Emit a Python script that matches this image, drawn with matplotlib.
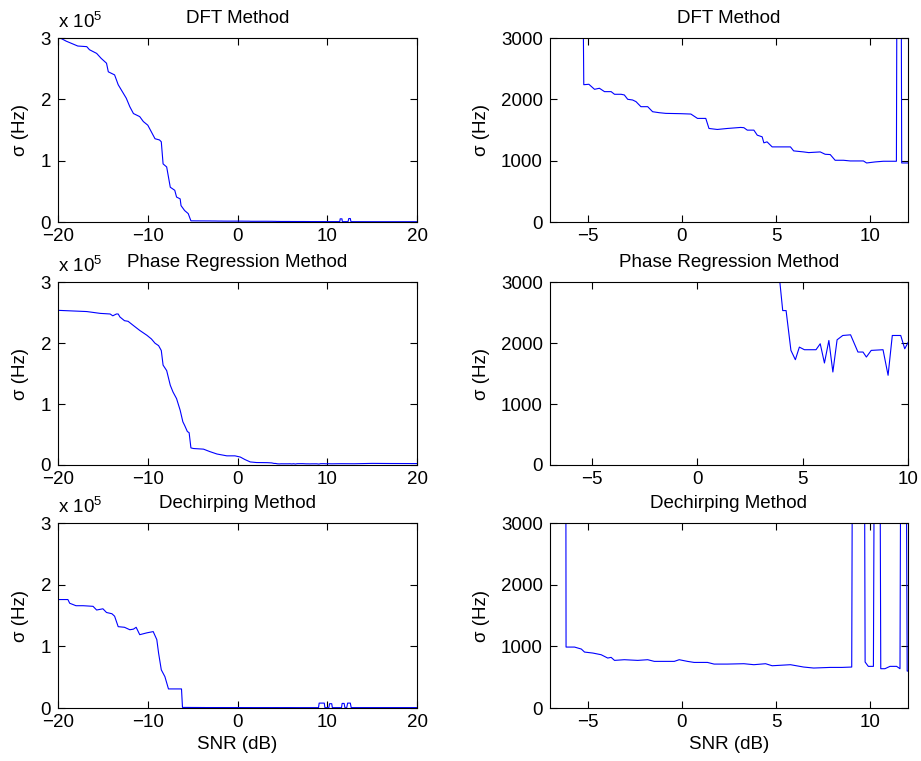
import numpy as np
import matplotlib
matplotlib.use('Agg')
import matplotlib.pyplot as plt
from matplotlib.ticker import FuncFormatter

plt.rcParams['font.family'] = ['Liberation Sans', 'DejaVu Sans']
plt.rcParams['font.size'] = 13.5
plt.rcParams['mathtext.fontset'] = 'custom'
plt.rcParams['mathtext.rm'] = 'Liberation Sans'
plt.rcParams['mathtext.it'] = 'Liberation Sans:italic'

# SNR (dB) vs sigma (Hz)
snr_dft = [-20, -19.1, -17.8, -16.8, -16.5, -15.7, -15.2, -14.6, -14.4, -13.7, -13.3,
           -12.4, -12.0, -11.6, -10.9, -10.5, -10.0, -9.6, -9.2, -8.7, -8.5, -8.3,
           -7.9, -7.5, -7.0, -6.8, -6.4, -6.3, -5.9, -5.5, -5.2, -4.93, -4.63, -4.37,
           -4.10, -3.75, -3.57, -3.22, -3.05, -2.87, -2.61, -2.43, -2.17, -1.81, -1.55,
           -1.20, -0.85, -0.05, 0.48, 0.83, 1.27, 1.44, 1.88, 2.41, 3.12, 3.29, 3.47,
           3.82, 4.0, 4.26, 4.35, 4.52, 4.79, 5.76, 5.93, 6.46, 6.73, 7.34, 7.6, 7.87,
           8.13, 8.57, 8.93, 9.63, 9.8, 10.25, 10.69, 11.38, 11.42, 11.62, 11.66, 12.0,
           12.3, 12.38, 12.55, 12.62, 14, 16, 20]
sigma_dft = [302000, 295000, 287000, 286000, 281000, 275000, 267000, 259000, 245000,
             240000, 224000, 202000, 188000, 177000, 172000, 164000, 158000, 147000,
             136000, 134000, 131000, 95000, 90000, 57000, 52000, 41000, 38000, 27000,
             19000, 14000, 2240, 2247, 2165, 2182, 2127, 2127, 2084, 2084, 2073, 2002,
             1991, 1964, 1882, 1882, 1800, 1784, 1773, 1768, 1762, 1691, 1691, 1527,
             1511, 1527, 1544, 1540, 1500, 1500, 1418, 1391, 1293, 1309, 1227, 1227,
             1162, 1145, 1134, 1145, 1107, 1102, 1009, 1009, 998, 998, 965, 982, 993,
             993, 5500, 5500, 965, 965, 1000, 6000, 6000, 900, 850, 800, 800]

snr_phase = [-20, -16.8, -15.3, -14.2, -13.9, -13.5, -13.3, -13.1, -12.6, -12.2, -11.6,
             -10.9, -10.1, -9.6, -9.2, -8.8, -8.5, -8.3, -7.9, -7.5, -7.2, -6.8, -6.4,
             -6.1, -5.9, -5.6, -5.4, -5.2, -4.9, -3.8, -3.1, -2.3, -1.2, -0.3, 0.3, 0.8,
             1.4, 2.1, 3.3, 3.8, 4.05, 4.21, 4.44, 4.65, 4.84, 5.08, 5.63, 5.83, 6.03,
             6.24, 6.43, 6.63, 6.90, 7.27, 7.62, 7.86, 8.02, 8.25, 8.81, 9.05, 9.25,
             9.65, 9.84, 10.05, 10.5, 11.5, 13, 15, 17, 20]
sigma_phase = [254000, 252000, 249000, 248000, 245000, 248000, 248000, 243000, 237000,
               236000, 229000, 221000, 213000, 207000, 200000, 196000, 188000, 164000,
               155000, 131000, 120000, 109000, 90000, 71000, 65000, 55000, 53000, 28000,
               27000, 26000, 22000, 18000, 15000, 15000, 13000, 9000, 5000, 4000, 3800,
               3400, 2536, 2536, 1882, 1729, 1936, 1893, 1893, 1991, 1675, 2045, 1527,
               2056, 2127, 2138, 1855, 1855, 1773, 1882, 1893, 1473, 2127, 2127, 1909,
               2045, 1900, 2100, 2000, 2600, 2400, 2300]

snr_dechirp = [-20, -18.9, -18.7, -18.0, -17.2, -16.1, -15.7, -15.0, -14.6, -14.0, -13.7,
               -13.3, -12.6, -12.0, -11.6, -11.3, -10.9, -10.1, -9.4, -9.0, -8.8, -8.5,
               -8.1, -7.7, -6.4, -6.25, -6.14, -5.69, -5.33, -5.16, -4.72, -4.28, -3.93,
               -3.75, -3.57, -3.05, -2.34, -1.81, -1.46, -0.40, -0.14, 0.30, 0.65, 1.36,
               1.71, 2.41, 3.29, 3.82, 4.44, 4.79, 5.76, 6.46, 6.99, 7.87, 8.49, 9.01,
               9.08, 9.65, 9.72, 9.89, 10.16, 10.24, 10.48, 10.55, 10.77, 11.04, 11.39,
               11.57, 11.64, 11.86, 11.95, 12.15, 12.25, 12.55, 12.65, 20]
sigma_dechirp = [176000, 176000, 170000, 166000, 166000, 165000, 159000, 161000, 155000,
                 153000, 149000, 132000, 131000, 127000, 128000, 131000, 119000, 122000,
                 124000, 111000, 89000, 62000, 51000, 31000, 31000, 31000, 989, 989, 957,
                 908, 892, 865, 811, 822, 773, 784, 773, 784, 757, 757, 784, 757, 740,
                 740, 713, 713, 719, 703, 719, 686, 703, 665, 649, 659, 659, 665, 8000,
                 8000, 746, 676, 676, 7000, 7000, 638, 638, 676, 676, 638, 7500, 7500,
                 600, 600, 8000, 8000, 700, 700]

titles = ['DFT Method', 'Phase Regression Method', 'Dechirping Method']
snrs = [snr_dft, snr_phase, snr_dechirp]
sigmas = [sigma_dft, sigma_phase, sigma_dechirp]
right_xmax = [12, 10, 12]

fig = plt.figure(figsize=(9.21, 7.61), dpi=100)
bottoms = [0.708, 0.389, 0.0696]
heights = [0.242, 0.240, 0.243]


def matlab_style(ax):
    ax.tick_params(direction='in', top=True, right=True, length=5, width=0.8)
    ax.tick_params(axis='x', pad=4)
    ax.tick_params(axis='y', pad=5)
    for s in ax.spines.values():
        s.set_linewidth(0.8)


minus_fmt = FuncFormatter(lambda v, _: f'{v:g}'.replace('-', '\u2212'))

for i in range(3):
    x = np.array(snrs[i])
    y = np.array(sigmas[i])

    # full range
    axl = fig.add_axes([0.063, bottoms[i], 0.390, heights[i]])
    axl.plot(x, y, color='blue', lw=0.8)
    axl.set_xlim(-20, 20)
    axl.set_ylim(0, 3e5)
    axl.set_xticks([-20, -10, 0, 10, 20])
    axl.set_yticks([0, 1e5, 2e5, 3e5])
    axl.xaxis.set_major_formatter(minus_fmt)
    axl.yaxis.set_major_formatter(FuncFormatter(lambda v, _: f'{v / 1e5:g}'))
    axl.text(0, 1.035, r'x 10$^5$', transform=axl.transAxes, ha='left', va='bottom')
    axl.set_title(titles[i], fontsize=13.5, pad=11)
    axl.set_ylabel('σ (Hz)', labelpad=8)
    matlab_style(axl)

    # zoomed in
    axr = fig.add_axes([0.597, bottoms[i], 0.389, heights[i]])
    axr.plot(x, y, color='blue', lw=0.8)
    axr.set_xlim(-7, right_xmax[i])
    axr.set_ylim(0, 3000)
    axr.set_xticks([-5, 0, 5, 10])
    axr.set_yticks([0, 1000, 2000, 3000])
    axr.xaxis.set_major_formatter(minus_fmt)
    axr.set_title(titles[i], fontsize=13.5, pad=11)
    axr.set_ylabel('σ (Hz)', labelpad=8)
    matlab_style(axr)

    if i == 2:
        axl.set_xlabel('SNR (dB)', labelpad=4)
        axr.set_xlabel('SNR (dB)', labelpad=4)

fig.savefig('out.png', dpi=100)
